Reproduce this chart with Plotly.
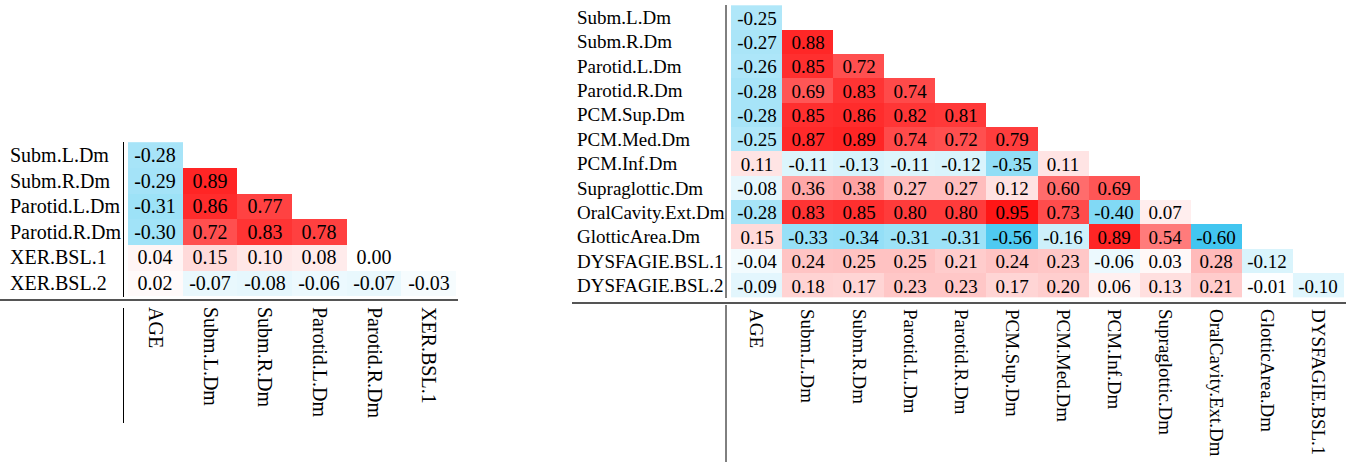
import plotly.graph_objects as go

W, H = 1355, 462

# ---------------- data ----------------
left_rows = ["Subm.L.Dm", "Subm.R.Dm", "Parotid.L.Dm", "Parotid.R.Dm", "XER.BSL.1", "XER.BSL.2"]
left_cols = ["AGE", "Subm.L.Dm", "Subm.R.Dm", "Parotid.L.Dm", "Parotid.R.Dm", "XER.BSL.1"]
left_vals = [
    [-0.28],
    [-0.29, 0.89],
    [-0.31, 0.86, 0.77],
    [-0.30, 0.72, 0.83, 0.78],
    [0.04, 0.15, 0.10, 0.08, 0.00],
    [0.02, -0.07, -0.08, -0.06, -0.07, -0.03],
]

right_rows = ["Subm.L.Dm", "Subm.R.Dm", "Parotid.L.Dm", "Parotid.R.Dm", "PCM.Sup.Dm", "PCM.Med.Dm",
              "PCM.Inf.Dm", "Supraglottic.Dm", "OralCavity.Ext.Dm", "GlotticArea.Dm",
              "DYSFAGIE.BSL.1", "DYSFAGIE.BSL.2"]
right_cols = ["AGE", "Subm.L.Dm", "Subm.R.Dm", "Parotid.L.Dm", "Parotid.R.Dm", "PCM.Sup.Dm",
              "PCM.Med.Dm", "PCM.Inf.Dm", "Supraglottic.Dm", "OralCavity.Ext.Dm", "GlotticArea.Dm",
              "DYSFAGIE.BSL.1"]
right_vals = [
    [-0.25],
    [-0.27, 0.88],
    [-0.26, 0.85, 0.72],
    [-0.28, 0.69, 0.83, 0.74],
    [-0.28, 0.85, 0.86, 0.82, 0.81],
    [-0.25, 0.87, 0.89, 0.74, 0.72, 0.79],
    [0.11, -0.11, -0.13, -0.11, -0.12, -0.35, 0.11],
    [-0.08, 0.36, 0.38, 0.27, 0.27, 0.12, 0.60, 0.69],
    [-0.28, 0.83, 0.85, 0.80, 0.80, 0.95, 0.73, -0.40, 0.07],
    [0.15, -0.33, -0.34, -0.31, -0.31, -0.56, -0.16, 0.89, 0.54, -0.60],
    [-0.04, 0.24, 0.25, 0.25, 0.21, 0.24, 0.23, -0.06, 0.03, 0.28, -0.12],
    [-0.09, 0.18, 0.17, 0.23, 0.23, 0.17, 0.20, 0.06, 0.13, 0.21, -0.01, -0.10],
]

# ---------------- helpers ----------------
def px_x(x):
    return x / W

def px_y(y):
    return 1 - y / H

def full(vals, ncols):
    z, t = [], []
    for row in vals:
        zr = list(row) + [None] * (ncols - len(row))
        z.append(zr)
        t.append([("" if v is None else f"{v:.2f}") for v in zr])
    return z, t

cscale = [
    [0.0, "rgb(0,160,230)"],
    [0.1, "rgb(3,179,235)"],
    [0.2, "rgb(66,198,240)"],
    [0.5, "rgb(255,255,255)"],
    [1.0, "rgb(255,10,10)"],
]

FONT = "Liberation Serif"

fig = go.Figure()

zl, tl = full(left_vals, len(left_cols))
fig.add_trace(go.Heatmap(
    z=zl, x=left_cols, y=left_rows, text=tl, texttemplate="%{text}",
    textfont=dict(family=FONT, size=20, color="black"),
    colorscale=cscale, zmin=-1, zmax=1, showscale=False, hoverinfo="skip",
    xaxis="x", yaxis="y"))

zr, tr = full(right_vals, len(right_cols))
fig.add_trace(go.Heatmap(
    z=zr, x=right_cols, y=right_rows, text=tr, texttemplate="%{text}",
    textfont=dict(family=FONT, size=19, color="black"),
    colorscale=cscale, zmin=-1, zmax=1, showscale=False, hoverinfo="skip",
    xaxis="x2", yaxis="y2"))

axcommon = dict(showgrid=False, zeroline=False, showline=False, ticks="", automargin=False,
                fixedrange=True)

fig.update_layout(
    width=W, height=H, margin=dict(l=0, r=0, t=0, b=0),
    paper_bgcolor="white", plot_bgcolor="white",
    font=dict(family=FONT, color="black"),
    xaxis=dict(domain=[px_x(128), px_x(456)], anchor="y", tickangle=90,
               tickfont=dict(family=FONT, size=20, color="black"), ticklabelstandoff=10, **axcommon),
    yaxis=dict(domain=[px_y(296), px_y(142)], anchor="x", autorange="reversed",
               showticklabels=False, **axcommon),
    xaxis2=dict(domain=[px_x(731), px_x(1344)], anchor="y2", tickangle=90,
                tickfont=dict(family=FONT, size=19, color="black"), ticklabelstandoff=10, **axcommon),
    yaxis2=dict(domain=[px_y(298), px_y(5)], anchor="x2", autorange="reversed",
                showticklabels=False, **axcommon),
)

# row labels (left aligned)
for r in left_rows:
    fig.add_annotation(x=px_x(8), xref="paper", y=r, yref="y", text=r, showarrow=False,
                       xanchor="left", yanchor="middle", font=dict(family=FONT, size=20, color="black"))
for r in right_rows:
    fig.add_annotation(x=px_x(575), xref="paper", y=r, yref="y2", text=r, showarrow=False,
                       xanchor="left", yanchor="middle", font=dict(family=FONT, size=19, color="black"))

def line(x0, y0, x1, y1, color="black", width=1):
    fig.add_shape(type="line", xref="paper", yref="paper",
                  x0=px_x(x0), y0=px_y(y0), x1=px_x(x1), y1=px_y(y1),
                  line=dict(color=color, width=width))

# left table rules
line(123.5, 142, 123.5, 297)
line(123.5, 308, 123.5, 423)
line(0, 300, 458, 300, color="#555555", width=2)
# right table rules
line(726, 5, 726, 298)
line(726, 305, 726, 462)
line(572, 303, 1346, 303, color="#555555", width=2)

fig.write_html("out.html", config={"displayModeBar": False, "staticPlot": True},
               post_script="document.body.style.margin='0';")
